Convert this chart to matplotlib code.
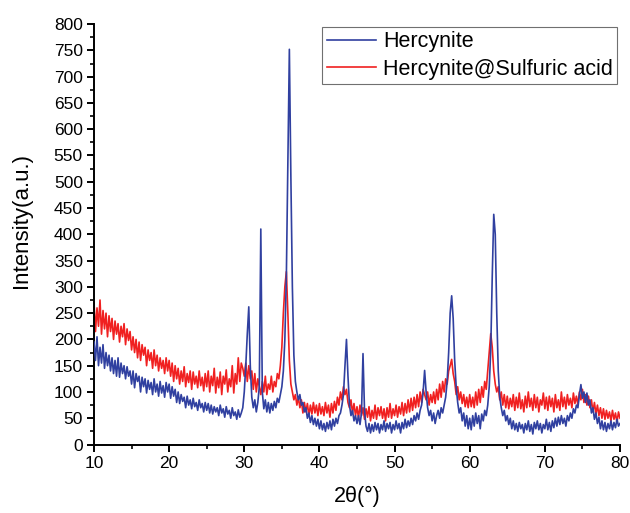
import numpy as np
import matplotlib
matplotlib.use("Agg")
import matplotlib.pyplot as plt
from matplotlib.ticker import MultipleLocator

plt.rcParams['font.family'] = ['Liberation Sans', 'DejaVu Sans']

# 2-theta scan grid (degrees): 10 .. 80 in 0.2 steps
two_theta_start = 10.0
two_theta_stop = 80.0
n_points = 351

hercynite = (
    [195, 160, 205, 150, 185, 155, 190, 145, 175, 150, 170, 140, 165, 135, 160, 130, 165, 128, 155, 135, 150, 125, 148, 130, 140]
    + [115, 140, 108, 135, 120, 130, 100, 128, 110, 125, 98, 122, 105, 118, 95, 125, 100, 115, 92, 120, 98, 112, 90, 118, 100]
    + [115, 88, 110, 92, 105, 80, 100, 78, 95, 82, 90, 70, 92, 75, 85, 68, 88, 72, 80, 65, 85, 70, 78, 62, 80]
    + [65, 78, 60, 75, 58, 72, 62, 70, 55, 75, 60, 68, 52, 72, 58, 65, 50, 70, 55, 62, 48, 66, 52, 60, 70]
    + [100, 150, 210, 262, 150, 90, 70, 85, 62, 80, 110, 410, 100, 68, 85, 62, 80, 60, 78, 65, 82, 70, 88, 80, 95]
    + [110, 140, 200, 320, 540, 752, 510, 300, 170, 120, 100, 85, 95, 75, 80, 62, 70, 50, 60, 42, 55, 38, 50, 35, 48]
    + [30, 45, 28, 40, 25, 42, 30, 45, 28, 48, 35, 50, 40, 55, 60, 75, 95, 150, 200, 130, 75, 55, 65, 45, 55]
    + [40, 55, 38, 60, 173, 65, 35, 25, 40, 22, 38, 25, 42, 28, 40, 22, 38, 28, 45, 25, 40, 30, 42, 22, 38]
    + [28, 45, 30, 40, 22, 42, 30, 48, 32, 45, 35, 50, 38, 55, 45, 60, 48, 65, 75, 100, 141, 100, 70, 55, 65]
    + [45, 60, 40, 55, 65, 50, 70, 60, 75, 90, 120, 175, 250, 283, 240, 160, 110, 80, 60, 70, 45, 60, 35, 55, 30]
    + [50, 28, 55, 35, 60, 40, 55, 30, 58, 45, 65, 55, 75, 110, 180, 320, 438, 400, 250, 140, 90, 70, 55, 65, 45]
    + [55, 38, 50, 30, 45, 28, 40, 25, 42, 30, 38, 22, 40, 28, 45, 25, 38, 20, 42, 30, 45, 28, 40, 22, 38]
    + [30, 48, 28, 42, 25, 45, 32, 50, 35, 52, 38, 55, 40, 50, 35, 55, 45, 60, 50, 68, 60, 75, 70, 95, 114]
    + [88, 100, 80, 98, 75, 85, 60, 70, 48, 60, 40, 52, 30, 45, 28, 42, 25, 40, 30, 45, 28, 42, 32, 48, 35]
    + [40]
)

hercynite_sulfuric = (
    [270, 215, 260, 225, 275, 210, 255, 220, 250, 205, 245, 215, 240, 200, 235, 210, 230, 195, 225, 205, 230, 190, 220, 198, 215]
    + [180, 205, 175, 200, 165, 195, 160, 190, 170, 185, 150, 180, 160, 175, 145, 180, 150, 170, 140, 165, 145, 160, 135, 165, 140]
    + [160, 130, 155, 120, 150, 125, 145, 115, 140, 120, 148, 110, 135, 118, 140, 105, 138, 115, 130, 108, 140, 112, 128, 102, 135]
    + [110, 140, 100, 130, 112, 145, 98, 128, 108, 138, 95, 130, 115, 142, 100, 125, 110, 150, 98, 135, 115, 165, 120, 155, 145]
    + [130, 155, 120, 150, 125, 140, 105, 135, 100, 125, 110, 95, 120, 100, 130, 95, 115, 105, 130, 100, 120, 110, 135, 125, 150]
    + [185, 250, 300, 329, 250, 160, 115, 100, 85, 95, 75, 90, 70, 85, 60, 80, 62, 78, 55, 75, 58, 80, 60, 75, 55]
    + [78, 58, 72, 55, 80, 60, 75, 52, 78, 60, 82, 65, 90, 75, 100, 85, 110, 95, 105, 80, 70, 85, 60, 78, 55]
    + [72, 50, 75, 55, 70, 48, 68, 52, 72, 45, 65, 50, 75, 48, 70, 55, 72, 50, 68, 45, 70, 52, 78, 50, 68]
    + [55, 75, 52, 72, 58, 80, 55, 78, 60, 85, 62, 88, 65, 90, 70, 95, 72, 100, 80, 105, 95, 85, 100, 75, 95]
    + [80, 100, 78, 105, 85, 115, 90, 120, 100, 125, 115, 140, 150, 162, 135, 120, 95, 110, 85, 100, 78, 95, 72, 90, 70]
    + [95, 72, 90, 70, 100, 75, 105, 80, 110, 90, 120, 105, 140, 175, 211, 185, 140, 115, 100, 110, 85, 100, 75, 95, 70]
    + [92, 68, 88, 72, 95, 65, 90, 70, 98, 68, 85, 62, 92, 70, 100, 72, 88, 65, 95, 70, 90, 62, 85, 75, 98]
    + [68, 90, 65, 92, 72, 88, 62, 95, 70, 85, 65, 100, 72, 90, 68, 95, 75, 88, 70, 98, 78, 92, 75, 100, 85]
    + [105, 80, 95, 75, 92, 70, 85, 62, 80, 58, 75, 55, 70, 50, 68, 48, 65, 50, 62, 45, 65, 48, 60, 42, 62]
    + [50]
)

labels = ["Hercynite", "Hercynite@Sulfuric acid"]
colors = ["#3040A0", "#F02020"]

two_theta = np.linspace(two_theta_start, two_theta_stop, n_points)

fig = plt.figure(figsize=(6.3, 5.13), dpi=100)
ax = fig.add_axes([0.1492, 0.1335, 0.8349, 0.8195])

ax.plot(two_theta, hercynite, color=colors[0], lw=1.2, label=labels[0], zorder=3)
ax.plot(two_theta, hercynite_sulfuric, color=colors[1], lw=1.2, label=labels[1], zorder=2)

ax.set_xlim(10, 80)
ax.set_ylim(0, 800)
ax.xaxis.set_major_locator(MultipleLocator(10))
ax.xaxis.set_minor_locator(MultipleLocator(5))
ax.yaxis.set_major_locator(MultipleLocator(50))
ax.yaxis.set_minor_locator(MultipleLocator(25))

for s in ['top', 'right']:
    ax.spines[s].set_visible(False)
for s in ['left', 'bottom']:
    ax.spines[s].set_linewidth(1.4)
ax.tick_params(which='major', direction='out', length=5, width=1.4, labelsize=12.5,
               colors='black', pad=3)
ax.tick_params(which='minor', direction='out', length=3, width=1.2)

ax.set_xlabel("2θ(°)", fontsize=15.5, labelpad=11)
ax.set_ylabel("Intensity(a.u.)", fontsize=16)
ax.yaxis.set_label_coords(-0.118, 0.534)

leg = ax.legend(loc='upper right', bbox_to_anchor=(0.995, 0.993), fontsize=15.5,
                frameon=True, fancybox=False, edgecolor='#707070', framealpha=1,
                handlelength=2.3, handletextpad=0.33, labelspacing=0.3,
                borderpad=0.2, borderaxespad=0.0)
leg.get_frame().set_linewidth(0.8)

fig.savefig("out.png", dpi=100)
